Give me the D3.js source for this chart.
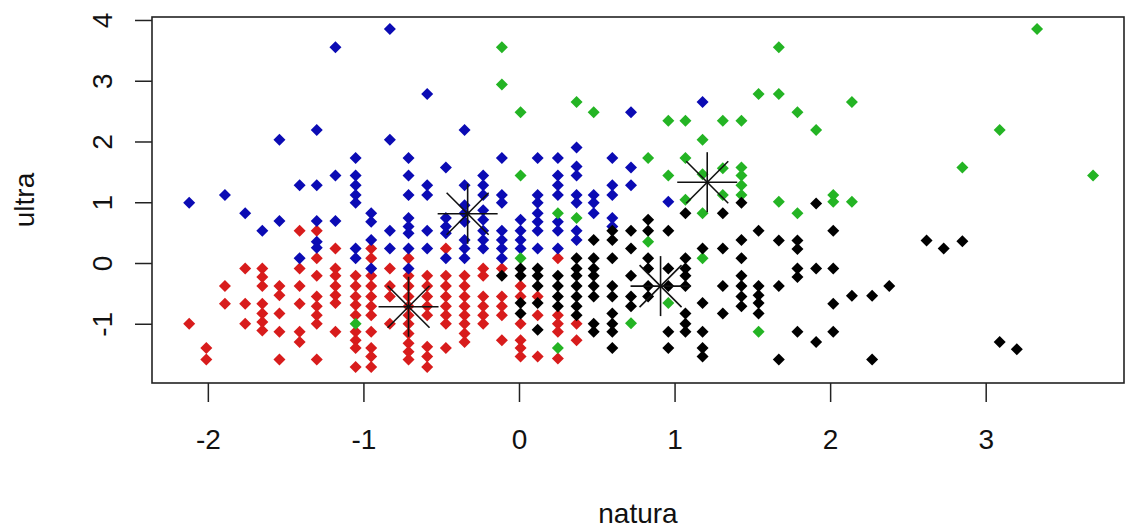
<!DOCTYPE html>
<html><head><meta charset="utf-8">
<script src="https://cdn.jsdelivr.net/npm/d3@7"></script>
<style>body{margin:0;background:#fff}svg{display:block}</style>
</head><body>
<svg id="chart" width="1127" height="530"></svg>
<script>
const xTicks = [-2, -1, 0, 1, 2, 3];
const yTicks = [-1, 0, 1, 2, 3, 4];
const xLabel = "natura";
const yLabel = "ultra";

// cluster 3 (red)
const redPoints = [
[-1.41,0.53],[-1.30,0.53],[-1.18,0.24],[-1.30,0.08],[-1.76,-0.09],
[-1.65,-0.09],[-1.65,-0.23],[-1.65,-0.38],[-1.89,-0.38],[-1.54,-0.38],[-1.54,-0.53],
[-1.41,-0.09],[-1.41,-0.38],[-1.30,-0.21],
[-1.18,-0.09],[-1.18,-0.21],[-1.18,-0.38],[-1.18,-0.53],[-1.18,-0.66],
[-1.89,-0.67],[-1.76,-0.67],[-1.65,-0.67],[-1.65,-0.83],[-1.65,-0.97],[-1.65,-1.11],
[-1.54,-0.83],[-1.41,-0.67],[-1.30,-0.55],[-1.30,-0.71],[-1.30,-0.86],[-1.30,-1.00],
[-2.12,-1.00],[-1.76,-1.00],[-1.54,-1.13],[-1.41,-1.13],[-1.41,-1.30],[-1.18,-1.13],
[-2.01,-1.40],[-2.01,-1.59],[-1.54,-1.59],[-1.30,-1.59],
[-1.05,-0.21],[-1.05,-0.38],[-1.05,-0.55],[-1.05,-0.69],[-1.05,-0.86],[-1.05,-1.13],[-1.05,-1.27],[-1.05,-1.40],[-1.05,-1.71],
[-0.95,0.24],[-0.95,0.08],[-0.95,-0.21],[-0.95,-0.38],[-0.95,-0.55],[-0.95,-0.71],[-0.95,-0.86],[-0.95,-1.13],[-0.95,-1.40],[-0.95,-1.54],[-0.95,-1.71],
[-0.83,-0.09],[-0.83,-0.38],[-0.83,-0.55],[-0.83,-1.00],
[-0.71,0.08],[-0.71,-0.21],[-0.71,-0.38],[-0.71,-0.55],[-0.71,-0.71],[-0.71,-0.86],[-0.71,-1.00],[-0.71,-1.16],[-0.71,-1.32],[-0.71,-1.46],[-0.71,-1.59],
[-0.59,-0.21],[-0.59,-0.38],[-0.59,-0.55],[-0.59,-0.71],[-0.59,-0.86],[-0.59,-1.38],[-0.59,-1.54],[-0.59,-1.71],
[-0.47,0.24],[-0.47,-0.21],[-0.47,-0.38],[-0.47,-0.55],[-0.47,-0.71],[-0.47,-0.86],[-0.47,-1.00],[-0.47,-1.40],
[-0.35,-0.21],[-0.35,-0.38],[-0.35,-0.55],[-0.35,-0.71],[-0.35,-0.86],[-0.35,-1.00],[-0.35,-1.16],[-0.35,-1.30],
[-0.23,-0.09],[-0.23,-0.21],[-0.23,-0.55],[-0.23,-0.71],[-0.23,-0.86],[-0.23,-1.00],
[-0.11,-0.09],[-0.11,-0.55],[-0.11,-0.71],[-0.11,-0.86],[-0.11,-1.27],
[0.01,-0.38],[0.01,-0.55],[0.01,-1.00],[0.01,-1.27],[0.01,-1.40],[0.01,-1.54],
[0.12,-0.55],[0.12,-0.86],[0.12,-1.54],
[0.25,0.08],[0.25,-0.86],[0.25,-1.00],[0.25,-1.13],[0.25,-1.57],
[0.37,-1.00],[0.37,-1.27]
];

// cluster 4 (blue)
const bluePoints = [
[-2.12,0.99],[-1.89,1.12],[-1.76,0.82],[-1.65,0.53],[-1.54,0.69],[-1.54,2.03],[-1.41,1.28],[-1.41,0.08],
[-1.30,2.19],[-1.30,1.28],[-1.30,0.69],[-1.30,0.35],[-1.30,0.25],[-1.18,3.55],[-1.18,1.44],[-1.18,0.69],
[-0.83,3.85],[-0.59,2.78],[-0.35,2.19],[-0.83,2.03],[-1.05,1.73],[-0.71,1.73],[-0.47,1.57],[-0.11,1.73],[0.12,1.73],
[-1.05,1.44],[-1.05,1.28],[-1.05,1.12],[-1.05,0.99],[-0.71,1.44],[-0.71,1.12],[-0.59,1.28],[-0.59,1.12],
[-0.35,1.28],[-0.23,1.44],[-0.23,1.28],[-0.23,1.12],[-0.11,1.12],[0.12,1.12],
[-1.05,0.24],[-1.05,0.08],
[-0.95,0.82],[-0.95,0.68],[-0.95,0.38],[-0.95,-0.09],
[-0.83,0.53],[-0.83,0.24],
[-0.71,0.74],[-0.71,0.60],[-0.71,0.49],[-0.71,0.24],[-0.71,-0.09],
[-0.59,0.53],[-0.59,0.24],
[-0.47,0.74],[-0.47,0.60],[-0.47,0.49],[-0.47,0.08],
[-0.35,0.95],[-0.35,0.82],[-0.35,0.68],[-0.35,0.38],[-0.35,0.24],[-0.35,0.08],
[-0.23,0.87],[-0.23,0.71],[-0.23,0.53],[-0.23,0.38],[-0.23,0.24],
[-0.11,0.99],[-0.11,0.53],[-0.11,0.38],[-0.11,0.24],[-0.11,0.08],
[0.01,0.71],[0.01,0.53],[0.01,0.38],[0.01,0.24],
[0.12,0.99],[0.12,0.82],[0.12,0.68],[0.12,0.53],[0.12,0.24],
[0.72,2.48],[1.18,2.65],[0.25,1.73],[0.37,1.90],[0.60,1.73],[0.72,1.57],[0.72,1.28],
[0.25,1.44],[0.25,1.28],[0.25,1.12],[0.37,1.59],[0.37,1.44],[0.37,1.12],[0.48,1.12],
[0.60,1.28],[0.60,1.12],[0.96,1.01],
[0.25,0.68],[0.25,0.53],[0.25,0.24],[0.37,0.99],[0.37,0.53],[0.37,0.38],
[0.48,0.99],[0.48,0.82],[0.60,0.74],[0.60,0.60]
];

// cluster 2 (green)
const greenPoints = [
[-0.11,3.55],[-0.11,2.94],[0.01,2.48],[0.01,1.44],[-1.05,-1.00],[0.01,0.08],
[0.37,2.65],[0.48,2.48],[0.96,2.34],[1.07,2.34],[1.31,2.34],[1.43,2.34],[1.18,2.03],
[0.83,1.73],[1.07,1.73],[0.96,1.44],[1.18,1.46],[1.31,1.56],
[1.43,1.57],[1.43,1.44],[1.43,1.28],[1.43,1.12],[1.07,1.04],[1.31,1.12],
[0.25,0.82],[0.37,0.74],[0.83,0.35],[0.72,-0.99],[0.96,-0.66],[1.18,0.82],[1.18,0.08],[0.25,-1.40],
[1.67,3.55],[1.54,2.78],[1.67,2.78],[1.79,2.48],[1.91,2.19],[2.14,2.65],
[1.67,1.01],[2.02,1.12],[2.02,1.01],[2.14,1.01],[1.79,0.82],[1.54,-1.13],
[3.33,3.85],[3.09,2.19],[2.85,1.57],[3.69,1.44]
];

// cluster 1 (black)
const blackPoints = [
[-0.11,-0.21],
[0.01,-0.09],[0.01,-0.21],[0.01,-0.66],[0.01,-0.83],
[0.12,-0.09],[0.12,-0.21],[0.12,-0.38],[0.12,-0.66],[0.12,-1.10],
[0.25,-0.21],[0.25,-0.38],[0.25,-0.55],[0.25,-0.71],
[0.37,0.08],[0.37,-0.09],[0.37,-0.21],[0.37,-0.38],[0.37,-0.55],[0.37,-0.71],[0.37,-0.86],
[0.48,0.38],[0.48,0.08],[0.48,-0.09],[0.48,-0.21],[0.48,-0.38],[0.48,-0.55],[0.48,-1.00],[0.48,-1.13],
[0.60,0.53],[0.60,0.38],[0.60,0.08],[0.60,-0.38],[0.60,-0.55],[0.60,-0.83],[0.60,-1.00],[0.60,-1.13],[0.60,-1.40],
[0.72,0.53],[0.72,0.24],[0.72,-0.21],[0.72,-0.55],[0.72,-0.71],
[0.83,0.71],[0.83,0.53],[0.83,0.08],[0.83,-0.09],[0.83,-0.38],[0.83,-0.55],
[0.96,0.53],[0.96,-0.09],[0.96,-0.38],[0.96,-1.13],[0.96,-1.40],
[1.07,0.82],[1.07,0.08],[1.07,-0.09],[1.07,-0.21],[1.07,-0.38],[1.07,-0.83],[1.07,-1.00],[1.07,-1.13],
[1.18,0.24],[1.18,-0.66],[1.18,-1.13],[1.18,-1.40],[1.18,-1.54],
[1.31,0.82],[1.31,0.24],[1.31,-0.38],[1.31,-0.83],
[1.43,0.99],[1.43,0.38],[1.43,0.08],[1.43,-0.21],[1.43,-0.38],[1.43,-0.55],[1.43,-0.71],
[1.91,0.98],[1.54,0.53],[2.02,0.53],[1.67,0.37],[1.79,0.37],[1.79,0.23],[2.62,0.37],[2.73,0.24],
[1.79,-0.09],[1.79,-0.23],[1.91,-0.09],[2.02,-0.09],
[1.54,-0.38],[1.54,-0.53],[1.54,-0.66],[1.54,-0.83],[1.67,-0.38],[2.38,-0.38],
[2.14,-0.54],[2.27,-0.54],[2.02,-0.67],
[1.79,-1.13],[2.02,-1.13],[1.91,-1.30],[1.67,-1.59],[2.27,-1.59],
[2.85,0.36],[3.09,-1.30],[3.20,-1.42]
];

// cluster centres
const centers = [[-0.33,0.81],[-0.71,-0.72],[1.21,1.33],[0.91,-0.38]];

const seriesList = [
  {pts: redPoints,   color: "#d81c1c"},
  {pts: bluePoints,  color: "#0b0bb4"},
  {pts: greenPoints, color: "#24b424"},
  {pts: blackPoints, color: "#000000"}
];

const plot = {left: 152, right: 1124, top: 17, bottom: 383};
const svg = d3.select("#chart");
const FONT = "'Liberation Sans', Arial, sans-serif";
const FS = 28;

const x = d3.scaleLinear().domain([-2.359, 3.889]).range([plot.left, plot.right]);
const y = d3.scaleLinear().domain([-1.975, 4.049]).range([plot.bottom, plot.top]);

// points (filled diamonds, pch 18)
const r = 6;
const diamond = `M0,${-r}L${r},0L0,${r}L${-r},0Z`;
seriesList.forEach(s => {
  svg.append("g").selectAll("path").data(s.pts).join("path")
    .attr("d", diamond)
    .attr("transform", d => `translate(${x(d[0])},${y(d[1])})`)
    .attr("fill", s.color);
});

// centres (asterisk, pch 8)
const arm = 30, diag = 21;
const cg = svg.append("g").attr("stroke", "#111").attr("stroke-width", 1.6);
centers.forEach(c => {
  const cx = x(c[0]), cy = y(c[1]);
  cg.append("line").attr("x1", cx - arm).attr("x2", cx + arm).attr("y1", cy).attr("y2", cy);
  cg.append("line").attr("x1", cx).attr("x2", cx).attr("y1", cy - arm).attr("y2", cy + arm);
  cg.append("line").attr("x1", cx - diag).attr("x2", cx + diag).attr("y1", cy - diag).attr("y2", cy + diag);
  cg.append("line").attr("x1", cx - diag).attr("x2", cx + diag).attr("y1", cy + diag).attr("y2", cy - diag);
});

// frame
svg.append("rect")
  .attr("x", plot.left).attr("y", plot.top)
  .attr("width", plot.right - plot.left).attr("height", plot.bottom - plot.top)
  .attr("fill", "none").attr("stroke", "#222").attr("stroke-width", 1.6);

// x axis
const gx = svg.append("g").attr("transform", `translate(0,${plot.bottom})`)
  .call(d3.axisBottom(x).tickValues(xTicks).tickSize(19));
gx.select(".domain").remove();
gx.selectAll(".tick line").attr("stroke", "#222").attr("stroke-width", 1.5);
gx.selectAll(".tick text").attr("y", 66).attr("dy", 0)
  .attr("font-family", FONT).attr("font-size", FS).attr("fill", "#111")
  .text(d => d < 0 ? "-" + Math.abs(d) : String(d));

// y axis
const gy = svg.append("g").attr("transform", `translate(${plot.left},0)`)
  .call(d3.axisLeft(y).tickValues(yTicks).tickSize(17));
gy.select(".domain").remove();
gy.selectAll(".tick line").attr("stroke", "#222").attr("stroke-width", 1.5);
gy.selectAll(".tick text")
  .attr("x", null).attr("dy", 0)
  .attr("transform", "translate(-40,0) rotate(-90)")
  .attr("text-anchor", "middle")
  .attr("font-family", FONT).attr("font-size", FS).attr("fill", "#111")
  .text(d => d < 0 ? "-" + Math.abs(d) : String(d));

// axis titles
svg.append("text")
  .attr("x", (plot.left + plot.right) / 2).attr("y", 523)
  .attr("text-anchor", "middle")
  .attr("font-family", FONT).attr("font-size", FS).attr("fill", "#111")
  .text(xLabel);
svg.append("text")
  .attr("transform", `translate(34,${(plot.top + plot.bottom) / 2}) rotate(-90)`)
  .attr("text-anchor", "middle")
  .attr("font-family", FONT).attr("font-size", FS).attr("fill", "#111")
  .text(yLabel);
</script>
</body></html>
